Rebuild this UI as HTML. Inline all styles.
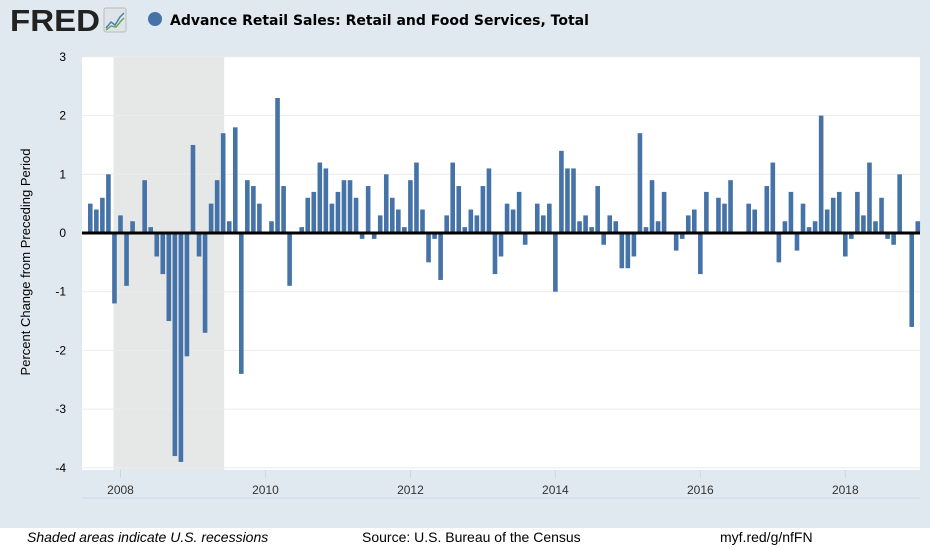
<!DOCTYPE html>
<html><head><meta charset="utf-8"><style>
html,body{margin:0;padding:0;}
body{width:930px;height:550px;background:#e1e9f0;position:relative;overflow:hidden;font-family:"Liberation Sans",sans-serif;}
#footer{position:absolute;left:0;top:528px;width:930px;height:22px;background:#fff;}
.ft{position:absolute;top:529px;font-size:14px;color:#000;}
</style></head><body>
<svg id="chart" width="930" height="550" style="position:absolute;left:0;top:0">
  <g>
    <text x="10" y="31" font-family="Liberation Sans" font-weight="bold" font-size="31" fill="#222" textLength="90" lengthAdjust="spacingAndGlyphs">FRED</text>
    <rect x="104" y="8" width="22" height="24" rx="2" fill="#dfe4e8" stroke="#bbb"/>
    <polyline points="106,28 111,22 115,25 120,17 124,13" fill="none" stroke="#4a7fbf" stroke-width="1.5"/>
    <polyline points="106,30 111,26 116,27 121,21 124,18" fill="none" stroke="#6aa84f" stroke-width="1.5"/>
  </g>
  <circle cx="155" cy="19" r="7" fill="#4572a7"/>
  <text x="170" y="25" font-family="DejaVu Sans" font-weight="bold" font-size="14" fill="#000">Advance Retail Sales: Retail and Food Services, Total</text>
  <rect x="82" y="57" width="838" height="413" fill="#fff"/>
  <g id="grid"></g>
  <g id="bars"></g>
  <g id="axes"></g>
  <text transform="translate(30,262) rotate(-90)" text-anchor="middle" font-size="13" fill="#000">Percent Change from Preceding Period</text>
</svg>
<div id="footer"></div>
<div class="ft" style="left:27px;font-style:italic">Shaded areas indicate U.S. recessions</div>
<div class="ft" style="left:362px">Source: U.S. Bureau of the Census</div>
<div class="ft" style="left:720px">myf.red/g/nfFN</div>
<script>
const startYear = 2007, startMonth = 8;
const values = [0.5,0.4,0.6,1.0,-1.2,0.3,-0.9,0.2,0,
0.9,0.1,-0.4,-0.7,-1.5,-3.8,-3.9,-2.1,1.5,-0.4,-1.7,0.5,0.9,1.7,0.2,1.8,-2.4,0.9,0.8,0.5,0,0.2,2.3,0.8,-0.9,
0,0.1,0.6,0.7,1.2,1.1,0.5,0.7,0.9,0.9,0.6,-0.1,0.8,-0.1,0.3,1.0,0.6,0.4,0.1,0.9,
1.2,0.4,-0.5,-0.1,-0.8,0.3,1.2,0.8,0.1,0.4,0.3,0.8,1.1,-0.7,-0.4,0.5,
0.4,0.7,-0.2,0,0.5,0.3,0.5,-1.0,1.4,1.1,1.1,0.2,0.3,0.1,0.8,-0.2,0.3,
0.2,-0.6,-0.6,-0.4,1.7,0.1,0.9,0.2,0.7,0,-0.3,-0.1,0.3,0.4,-0.7,0.7,0,
0.6,0.5,0.9,0,0,0.5,0.4,0,0.8,1.2,-0.5,0.2,0.7,-0.3,0.5,0.1,0.2,2.0,
0.4,0.6,0.7,-0.4,-0.1,0.7,0.3,1.2,0.2,0.6,-0.1,-0.2,1.0,0,-1.6,0.2];
const yTicks = [3,2,1,0,-1,-2,-3,-4];
const xTickYears = [2008,2010,2012,2014,2016,2018];
const recessionStart = [2007, 12];
const recessionEnd = [2009, 6];

const NS = "http://www.w3.org/2000/svg";
function xMonth(m){ return 120.5 + m * 6.04; }
function monthIdx(y, mo){ return (y - 2008) * 12 + (mo - 1); }
function yScale(v){ return 233 - v * 58.7; }
function mk(tag, attrs, parent){ const e = document.createElementNS(NS, tag); for (const k in attrs) e.setAttribute(k, attrs[k]); parent.appendChild(e); return e; }

const grid = document.getElementById('grid'), bars = document.getElementById('bars'), axes = document.getElementById('axes');
const rx0 = xMonth(monthIdx(recessionStart[0], recessionStart[1])) - 1;
const rx1 = xMonth(monthIdx(recessionEnd[0], recessionEnd[1])) + 1;
const rec = mk('rect', {x: rx0, y: 57, width: rx1 - rx0, height: 413, fill: '#e6e8e8'}, grid);



yTicks.forEach(t => {
  const y = yScale(t);
  if (t !== 0) {
    const g = mk('line', {x1: 82, x2: 920, y1: y, y2: y, stroke: '#ececec', 'stroke-width': 1}, grid);
    
    
  }
  const lbl = mk('text', {x: 66, y: y + 4, 'text-anchor': 'end', 'font-size': 12, fill: '#000'}, axes);
  lbl.textContent = t;
  
  
});

const m0 = monthIdx(startYear, startMonth);
values.forEach((v, i) => {
  const cx = xMonth(m0 + i);
  const y0 = yScale(0), y1 = yScale(v);
  const r = mk('rect', {x: cx - 2.3, y: Math.min(y0, y1), width: 4.6, height: Math.max(Math.abs(y1 - y0), 0), fill: '#4572a7'}, bars);
  
  
});

const zero = mk('line', {x1: 82, x2: 920, y1: yScale(0), y2: yScale(0), stroke: '#000', 'stroke-width': 3}, axes);



const xl = mk('line', {x1: 82, x2: 920, y1: 498, y2: 498, stroke: '#ccd6eb', 'stroke-width': 1}, axes);



xTickYears.forEach(yr => {
  const x = xMonth(monthIdx(yr, 1));
  const tk = mk('line', {x1: x, x2: x, y1: 470, y2: 478, stroke: '#ccd6eb'}, axes);
  
  
  const lbl = mk('text', {x: x, y: 494, 'text-anchor': 'middle', 'font-size': 12, fill: '#333'}, axes);
  lbl.textContent = yr;
  
  
});
</script>
</body></html>
